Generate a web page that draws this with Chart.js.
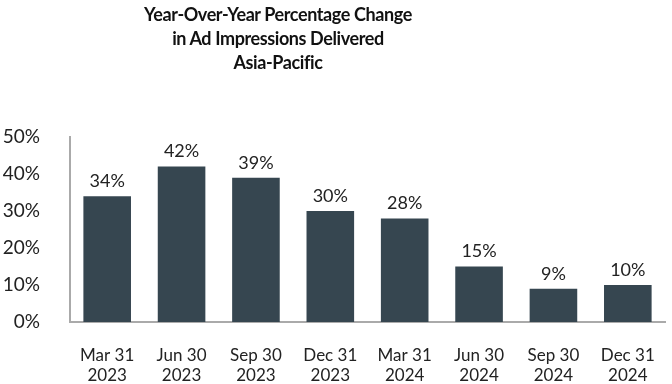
<!DOCTYPE html>
<html>
<head>
<meta charset="utf-8">
<script src="https://cdn.jsdelivr.net/npm/chart.js@4/dist/chart.umd.min.js"></script>
<style>
    html, body { margin: 0; padding: 0; background: #fff; }
    #wrap { position: relative; width: 672px; height: 384px; }
    #title {
        position: absolute; left: 0; top: 2px; width: 556px;
        text-align: center; font-family: Lato, sans-serif; letter-spacing: -0.4px;
        font-weight: bold; font-size: 18px; line-height: 24px; color: #111;
    }
</style>
</head>
<body>
<div id="wrap">
    <div id="title">Year-Over-Year Percentage Change<br>in Ad Impressions Delivered<br>Asia-Pacific</div>
    <canvas id="chart" width="672" height="384"></canvas>
</div>
<script>
const quarters = [["Mar 31", "2023"], ["Jun 30", "2023"], ["Sep 30", "2023"], ["Dec 31", "2023"],
    ["Mar 31", "2024"], ["Jun 30", "2024"], ["Sep 30", "2024"], ["Dec 31", "2024"]];
const changePct = [34, 42, 39, 30, 28, 15, 9, 10];
const yTicks = [0, 10, 20, 30, 40, 50];
const FONT = "Lato, 'Open Sans', sans-serif";

const barLabels = {
    id: "barLabels",
    afterDatasetsDraw(chart) {
        const ctx = chart.ctx;
        const meta = chart.getDatasetMeta(0);
        ctx.save();
        ctx.font = "18px " + FONT;
        ctx.fillStyle = "#222";
        ctx.textAlign = "center";
        ctx.textBaseline = "bottom";
        meta.data.forEach((bar, i) => {
            ctx.fillText(changePct[i] + "%", bar.x, bar.y - 6);
        });
        ctx.restore();
    }
};

new Chart(document.getElementById("chart"), {
    type: "bar",
    data: {
        labels: quarters,
        datasets: [{
            data: changePct,
            backgroundColor: "#364650",
            categoryPercentage: 1,
            barPercentage: 0.64,
        }],
    },
    options: {
        responsive: false,
        animation: false,
        layout: { padding: { top: 137, right: 7, left: 2, bottom: 0 } },
        plugins: { legend: { display: false }, tooltip: { enabled: false } },
        scales: {
            x: {
                grid: { display: false, drawTicks: false },
                border: { color: "#aaa", width: 2 },
                ticks: {
                    color: "#222",
                    font: { family: FONT, size: 17 },
                    padding: 23,
                    maxRotation: 0,
                },
                afterFit(axis) {
                    axis.height = 62;
                    axis.paddingLeft = 0;
                    axis.paddingRight = 0;
                },
            },
            y: {
                min: 0,
                max: 50,
                afterBuildTicks(axis) { axis.ticks = yTicks.map((v) => ({ value: v })); },
                grid: { display: false, drawTicks: false },
                border: { color: "#aaa", width: 2 },
                ticks: {
                    color: "#222",
                    font: { family: FONT, size: 19 },
                    padding: 30,
                    callback: (v) => v + "%",
                },
                afterFit(axis) {
                    axis.width = 68;
                    axis.paddingTop = 0;
                    axis.paddingBottom = 0;
                },
            },
        },
    },
    plugins: [barLabels],
});
</script>
</body>
</html>
